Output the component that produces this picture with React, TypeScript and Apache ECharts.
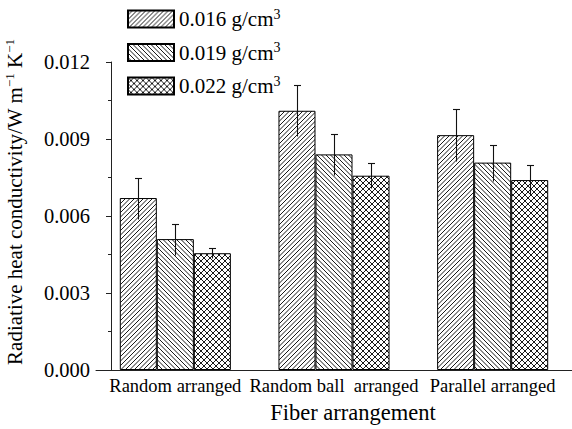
import React, { useEffect, useRef } from "react";
import * as echarts from "echarts";

const categories = ["Random arranged", "Random ball  arranged", "Parallel arranged"];
const densities = ["0.016 g/cm3", "0.019 g/cm3", "0.022 g/cm3"];
const values016 = [0.0067, 0.0101, 0.00915];
const values019 = [0.0051, 0.0084, 0.00808];
const values022 = [0.00455, 0.00757, 0.0074];
const errors016 = [0.0008, 0.001, 0.001];
const errors019 = [0.0006, 0.0008, 0.0007];
const errors022 = [0.0002, 0.00048, 0.0006];
const yTicks = [0, 0.003, 0.006, 0.009, 0.012];

const FONT = "'Liberation Serif', 'Times New Roman', serif";

const svgUrl = (s: string) => "data:image/svg+xml;charset=utf-8," + encodeURIComponent(s);
const hatchFwd = svgUrl(
  "<svg xmlns='http://www.w3.org/2000/svg' width='9' height='9'><rect width='9' height='9' fill='white'/><path d='M-1,1 L1,-1 M-1,5.5 L5.5,-1 M-1,10 L10,-1 M3.5,10 L10,3.5 M8,10 L10,8' stroke='black' stroke-width='0.9' fill='none'/></svg>"
);
const hatchBack = svgUrl(
  "<svg xmlns='http://www.w3.org/2000/svg' width='9' height='9'><rect width='9' height='9' fill='white'/><path d='M-1,-1 L10,10 M3.5,-1 L10,5.5 M-1,3.5 L5.5,10 M8,-1 L10,1 M-1,8 L1,10' stroke='black' stroke-width='0.9' fill='none'/></svg>"
);
const hatchCross = svgUrl(
  "<svg xmlns='http://www.w3.org/2000/svg' width='6' height='6'><rect width='6' height='6' fill='white'/><path d='M-1,1 L1,-1 M-1,7 L7,-1 M5,7 L7,5 M-1,-1 L7,7 M5,-1 L7,1 M-1,5 L1,7' stroke='black' stroke-width='0.9' fill='none'/></svg>"
);

const patterns = [
  { image: hatchFwd, repeat: "repeat", imageWidth: 9, imageHeight: 9 },
  { image: hatchBack, repeat: "repeat", imageWidth: 9, imageHeight: 9 },
  { image: hatchCross, repeat: "repeat", imageWidth: 6, imageHeight: 6 },
];

export default function App() {
  const ref = useRef<HTMLDivElement>(null);
  useEffect(() => {
    if (!ref.current) return;
    document.body.style.margin = "0";
    const chart = echarts.init(ref.current, null, { renderer: "svg" });
    const valueSets = [values016, values019, values022];
    const errorSets = [errors016, errors019, errors022];
    const barSeries = densities.map((name, k) => ({
      type: "bar",
      name,
      data: valueSets[k],
      barGap: "0%",
      barCategoryGap: "30%",
      itemStyle: { color: patterns[k] as any, borderColor: "#000", borderWidth: 1 },
      z: 2,
    }));
    const errSeries = densities.map((name, k) => ({
      type: "custom",
      name: name + " err",
      data: valueSets[k].map((v, i) => [i, v, errorSets[k][i]]),
      encode: { x: 0, y: 1 },
      z: 5,
      renderItem: (params: any, api: any) => {
        const ci = api.value(0);
        const v = api.value(1);
        const e = api.value(2);
        const band = api.size([1, 0])[0];
        const bw = (band * 0.7) / 3;
        const top = api.coord([ci, v + e]);
        const bot = api.coord([ci, v - e]);
        const x = Math.round(top[0] + (k - 1) * bw) + 0.5;
        const yt = Math.round(top[1]) + 0.5;
        const yb = Math.round(bot[1]) + 0.5;
        const st = { stroke: "#111", lineWidth: 1.1 };
        return {
          type: "group",
          children: [
            { type: "line", shape: { x1: x, y1: yt, x2: x, y2: yb }, style: st },
            { type: "line", shape: { x1: x - 3.5, y1: yt, x2: x + 3.5, y2: yt }, style: st },
          ],
        };
      },
    }));
    chart.setOption({
      animation: false,
      backgroundColor: "#fff",
      textStyle: { fontFamily: FONT, color: "#000" },
      grid: { left: 96, right: -4, top: 62, bottom: 57, containLabel: false },
      legend: {
        data: densities,
        orient: "vertical",
        left: 127,
        top: 7,
        padding: 0,
        itemWidth: 46,
        itemHeight: 17,
        itemGap: 11,
        icon: "rect",
        selectedMode: false,
        formatter: (name: string) => `{a|${name.slice(0, -1)}}{s|3}`,
        textStyle: {
          fontFamily: FONT,
          color: "#000",
          rich: {
            a: { fontFamily: FONT, fontSize: 21, color: "#000", lineHeight: 24 },
            s: { fontFamily: FONT, fontSize: 14, color: "#000", verticalAlign: "top", lineHeight: 24 },
          },
        },
      },
      xAxis: {
        type: "category",
        data: categories,
        axisLine: { lineStyle: { color: "#222", width: 1 } },
        axisTick: { length: 4, interval: (index: number) => index > 0, lineStyle: { color: "#222" } },
        axisLabel: { fontFamily: FONT, fontSize: 18.5, color: "#000", margin: 6, interval: 0 },
        name: "Fiber arrangement",
        nameLocation: "middle",
        nameGap: 31,
        nameTextStyle: { fontFamily: FONT, fontSize: 22.5, color: "#000", padding: [0, 0, 0, 38] },
      },
      yAxis: {
        type: "value",
        min: yTicks[0],
        max: yTicks[yTicks.length - 1],
        interval: 0.003,
        offset: -15,
        axisLine: { show: true, lineStyle: { color: "#222", width: 1 } },
        axisTick: { show: true, length: 5, lineStyle: { color: "#222" } },
        minorTick: { show: true, splitNumber: 2, length: 3, lineStyle: { color: "#222" } },
        splitLine: { show: false },
        axisLabel: {
          fontFamily: FONT,
          fontSize: 20.5,
          color: "#000",
          margin: 21,
          formatter: (v: number) => v.toFixed(3),
        },
      },
      graphic: [
        {
          type: "text",
          x: 15,
          y: 202,
          rotation: Math.PI / 2,
          style: {
            text: "{n|Radiative heat conductivity/W m}{s|−1}{n| K}{s|−1}",
            align: "center",
            verticalAlign: "middle",
            fill: "#000",
            rich: {
              n: { fontFamily: FONT, fontSize: 21, fill: "#000", lineHeight: 24 },
              s: { fontFamily: FONT, fontSize: 13, fill: "#000", verticalAlign: "top", lineHeight: 24 },
            },
          },
        },
      ],
      series: [...barSeries, ...errSeries],
    });
    return () => chart.dispose();
  }, []);
  return <div ref={ref} style={{ width: 572, height: 429 }} />;
}
